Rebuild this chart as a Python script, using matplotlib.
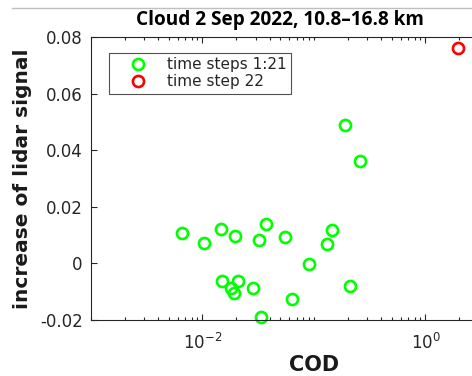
import numpy as np
import matplotlib
matplotlib.use('Agg')
import matplotlib.pyplot as plt
from matplotlib.ticker import LogLocator, FixedLocator, NullFormatter
from matplotlib.lines import Line2D

plt.rcParams['axes.unicode_minus'] = False
plt.rcParams['font.family'] = 'DejaVu Sans'

# cloud optical depth vs. lidar signal increase, time steps 1..21
cod_steps = [0.0066, 0.0103, 0.0146, 0.0194, 0.0372, 0.0318, 0.0551, 0.1445,
             0.132, 0.0897, 0.0149, 0.0209, 0.0180, 0.0190, 0.0281, 0.0633,
             0.211, 0.0336, 0.189, 0.258]
sig_steps = [0.0106, 0.0073, 0.0122, 0.0097, 0.0140, 0.0083, 0.0092, 0.0118,
             0.0069, -0.0002, -0.0061, -0.0062, -0.0088, -0.0106, -0.0087,
             -0.0127, -0.0081, -0.0191, 0.0489, 0.0362]

# last time step
cod_last = [1.96]
sig_last = [0.0760]

yticks = [-0.02, 0, 0.02, 0.04, 0.06, 0.08]
xticks = [1e-2, 1e0]
xticklabels = [r'$\mathdefault{10^{-2}}$', r'$\mathdefault{10^{0}}$']

fig = plt.figure(figsize=(4.72, 3.76), dpi=100)
# x range 1e-3 .. 10: the right part of the box runs past the figure edge
ax = fig.add_axes([0.1928, 0.1489, 0.9449, 0.7527])

axcol = '0.15'
ax.plot(cod_steps, sig_steps, 'o', mfc='none', mec=(0, 1, 0), mew=1.9, ms=8,
        ls='none', label='time steps 1:21', clip_on=False)
ax.plot(cod_last, sig_last, 'o', mfc='none', mec=(1, 0, 0), mew=1.9, ms=8,
        ls='none', label='time step 22', clip_on=False)

ax.set_xscale('log')
ax.set_xlim(1e-3, 10)
ax.set_ylim(-0.02, 0.08)

ax.xaxis.set_major_locator(FixedLocator(xticks))
ax.set_xticklabels(xticklabels)
ax.xaxis.set_minor_locator(LogLocator(base=10, subs=np.arange(1, 10), numticks=20))
ax.xaxis.set_minor_formatter(NullFormatter())
ax.set_yticks(yticks)
ax.set_yticklabels([f'{v:g}' for v in yticks])

ax.tick_params(which='both', direction='in', top=True, right=True,
               colors=axcol, labelsize=12, width=0.8)
ax.tick_params(which='major', length=4)
ax.tick_params(which='minor', length=2.5)
ax.tick_params(axis='x', pad=9)
ax.tick_params(axis='y', pad=6)
for sp in ax.spines.values():
    sp.set_color(axcol)
    sp.set_linewidth(0.8)

ax.set_xlabel('COD', fontsize=15, fontweight='bold', color='0.1', labelpad=2)
ax.set_ylabel('increase of lidar signal', fontsize=14.5, fontweight='bold',
              color='0.1', labelpad=6)
fig.text(0.593, 0.9335, 'Cloud 2 Sep 2022, 10.8\u201316.8 km', fontsize=13.7,
         fontweight='bold', family='Open Sans', ha='center', va='baseline')

leg = ax.legend(loc='upper left', bbox_to_anchor=(0.041, 0.945), fontsize=11,
                frameon=True, fancybox=False, borderpad=0.3, handletextpad=0.25,
                labelspacing=0.15, handlelength=3.2, borderaxespad=0)
leg.get_frame().set_edgecolor(axcol)
leg.get_frame().set_linewidth(0.8)
for t in leg.get_texts():
    t.set_color(axcol)

# thin border line along the top of the figure
fig.add_artist(Line2D([0.025, 1.0], [0.979, 0.979], color='0.75', lw=1.0))

fig.savefig('out.png', dpi=100)
